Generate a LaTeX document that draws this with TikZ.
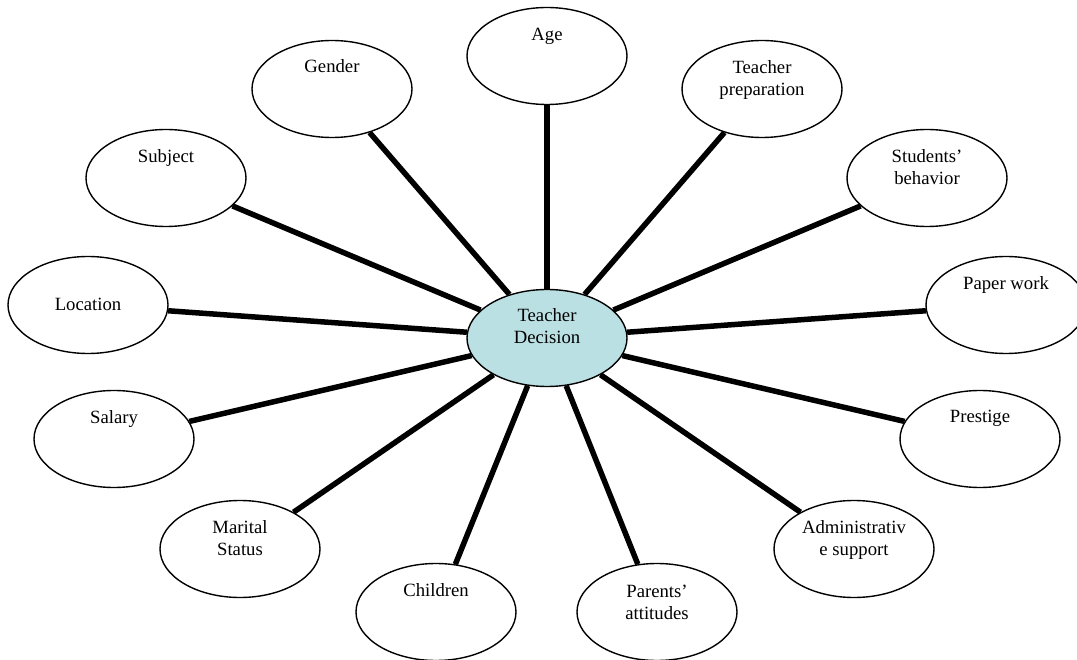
\documentclass[tikz,border=0pt]{standalone}
\usepackage{fontspec}
\setmainfont{Liberation Serif}
\usetikzlibrary{shapes.geometric,backgrounds}
\definecolor{hubfill}{RGB}{187,224,227}
\tikzset{
  bub/.style={ellipse, draw=black, line width=1.4pt, fill=white,
    minimum width=160pt, minimum height=97pt, inner sep=0pt},
  hub/.style={bub, fill=hubfill},
  lbl/.style={anchor=base, inner sep=0pt, font=\fontsize{18.7}{22}\selectfont},
  spoke/.style={line width=5.5pt, draw=black},
}
\begin{document}
\begin{tikzpicture}[x=1pt,y=-1pt]
\useasboundingbox (0,0) rectangle (1077,660);
\clip (0,0) rectangle (1077,660);
% ellipses
\node[hub] (hub) at (547,338) {};
\node[bub] (age) at (547,56) {};
\node[bub] (gender) at (332,89) {};
\node[bub] (prep) at (762,89) {};
\node[bub] (subject) at (166,178) {};
\node[bub] (students) at (927,178) {};
\node[bub] (location) at (88,305) {};
\node[bub] (paper) at (1006,305) {};
\node[bub] (salary) at (114,439) {};
\node[bub] (prestige) at (980,439) {};
\node[bub] (marital) at (240,549) {};
\node[bub] (admin) at (854,549) {};
\node[bub] (children) at (436,612) {};
\node[bub] (parents) at (657,612) {};
% connectors
\begin{scope}[on background layer]
\foreach \n in {age,gender,prep,subject,students,location,paper,salary,prestige,marital,admin,children,parents}
  \draw[spoke] (hub) -- (\n);
\end{scope}
% labels
\node[lbl] (hubA) at (547,322) {Teacher};
\node[lbl] (hubB) at (547,344) {Decision};
\node[lbl] (ageA) at (547,41) {Age};
\node[lbl] (genderA) at (332,73) {Gender};
\node[lbl] (prepA) at (762,74) {Teacher};
\node[lbl] (prepB) at (762,96) {preparation};
\node[lbl] (subjectA) at (166,163) {Subject};
\node[lbl] (studentsA) at (927,163) {Students’};
\node[lbl] (studentsB) at (927,185) {behavior};
\node[lbl] (locationA) at (88,311) {Location};
\node[lbl] (paperA) at (1006,290) {Paper work};
\node[lbl] (salaryA) at (114,424) {Salary};
\node[lbl] (prestigeA) at (980,423) {Prestige};
\node[lbl] (maritalA) at (240,533) {Marital};
\node[lbl] (maritalB) at (240,555) {Status};
\node[lbl] (adminA) at (854,533) {Administrativ};
\node[lbl] (adminB) at (854,555) {e support};
\node[lbl] (childrenA) at (436,596) {Children};
\node[lbl] (parentsA) at (657,597) {Parents’};
\node[lbl] (parentsB) at (657,619) {attitudes};
\end{tikzpicture}
\end{document}
